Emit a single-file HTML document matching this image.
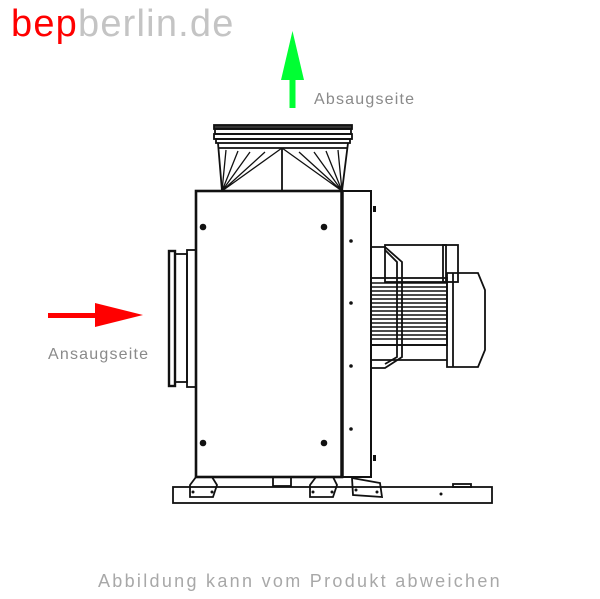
<!DOCTYPE html>
<html><head><meta charset="utf-8"><style>
html,body{margin:0;padding:0;background:#fff;width:600px;height:599px;overflow:hidden}
svg{display:block}
</style></head><body>
<svg width="600" height="599" viewBox="0 0 600 599" xmlns="http://www.w3.org/2000/svg" font-family="Liberation Sans, sans-serif">
<text x="11" y="36" font-size="38" letter-spacing="1.2"><tspan fill="#ff0000">bep</tspan><tspan fill="#c4c4c4">berlin.de</tspan></text>
<!-- green arrow -->
<rect x="289.5" y="78" width="6" height="30" fill="#00ff33"/>
<polygon points="292.5,31 281,80 304,80" fill="#00ff33"/>
<text x="314" y="104" font-size="16" fill="#8a8a8a" letter-spacing="1.2">Absaugseite</text>
<!-- red arrow -->
<rect x="48" y="313" width="50" height="5" fill="#ff0000"/>
<polygon points="95,303 143,315 95,327" fill="#ff0000"/>
<text x="48" y="359" font-size="16" fill="#8a8a8a" letter-spacing="1.2">Ansaugseite</text>
<g fill="none" stroke="#111" stroke-width="1.8">
<!-- top ring -->
<rect x="214" y="125" width="138" height="4" fill="#333"/>
<rect x="215" y="129" width="136" height="5"/>
<rect x="214" y="134" width="138" height="5"/>
<rect x="216" y="139" width="134" height="4"/>
<!-- funnel -->
<path d="M218,143 L222,191 M348,143 L342,191 M282,148 L282,191 M218,148 L282,148 M282,148 L348,148"/>
<path d="M222,191 L226,150 M222,191 L238,151 M222,191 L250,152 M222,191 L265,152 M222,191 L282,148 M342,191 L338,150 M342,191 L326,151 M342,191 L314,152 M342,191 L299,152 M342,191 L282,148" stroke-width="1.3"/>
<!-- inlet -->
<rect x="169" y="251" width="6" height="135" stroke-width="2.4"/>
<rect x="175" y="254" width="12" height="128"/>
<rect x="187" y="250" width="9" height="137"/>
<!-- main box -->
<rect x="196" y="191" width="146" height="286" stroke-width="2.6"/>
<rect x="342" y="191" width="29" height="286" stroke-width="2"/>
<line x1="342" y1="191" x2="342" y2="477" stroke-width="3.5"/>
<!-- motor -->
<path d="M371,247 L385,247 L402,262 L402,357 L385,368 L371,368"/>
<path d="M385,250 L397,262 L397,357 L385,364"/>
<rect x="385" y="245" width="61" height="37"/>
<rect x="443" y="245" width="15" height="37"/>
<rect x="371" y="278" width="76" height="67"/>
<path d="M371,283 H447 M371,287 H447 M371,291 H447 M371,295 H447 M371,299 H447 M371,303 H447 M371,307 H447 M371,311 H447 M371,315 H447 M371,319 H447 M371,323 H447 M371,327 H447 M371,331 H447 M371,335 H447 M371,339 H447" stroke-width="1.4"/>
<path d="M447,273 L478,273 L485,290 L485,350 L478,367 L447,367 Z"/>
<line x1="453" y1="273" x2="453" y2="367"/>
<line x1="371" y1="345" x2="447" y2="345"/>
<line x1="371" y1="360" x2="447" y2="360"/>
<!-- base -->
<rect x="173" y="487" width="319" height="16"/>
<path d="M196,477 L190,485 L190,497 L213,497 L217,485 L212,477"/>
<path d="M316,477 L310,485 L310,497 L333,497 L337,485 L333,477"/>
<path d="M352,478 L380,483 L382,497 L353,495 Z"/>
<rect x="273" y="477" width="18" height="9"/>
<rect x="453" y="484" width="18" height="3"/>
</g>
<g fill="#111">
<circle cx="203" cy="227" r="3.3"/><circle cx="324" cy="227" r="3.3"/>
<circle cx="203" cy="443" r="3.3"/><circle cx="324" cy="443" r="3.3"/>
<circle cx="351" cy="241" r="1.8"/><circle cx="351" cy="303" r="1.8"/><circle cx="351" cy="366" r="1.8"/><circle cx="351" cy="429" r="1.8"/>
<circle cx="193" cy="492" r="1.5"/><circle cx="212" cy="492" r="1.5"/>
<circle cx="313" cy="492" r="1.5"/><circle cx="332" cy="492" r="1.5"/>
<circle cx="356" cy="490" r="1.5"/><circle cx="377" cy="492" r="1.5"/>
<circle cx="441" cy="494" r="1.5"/>
<rect x="373" y="206" width="3" height="6"/><rect x="373" y="455" width="3" height="6"/>
</g>
<text x="300" y="587" font-size="18" fill="#a8a8a8" text-anchor="middle" letter-spacing="2.3">Abbildung kann vom Produkt abweichen</text>
</svg>
</body></html>
